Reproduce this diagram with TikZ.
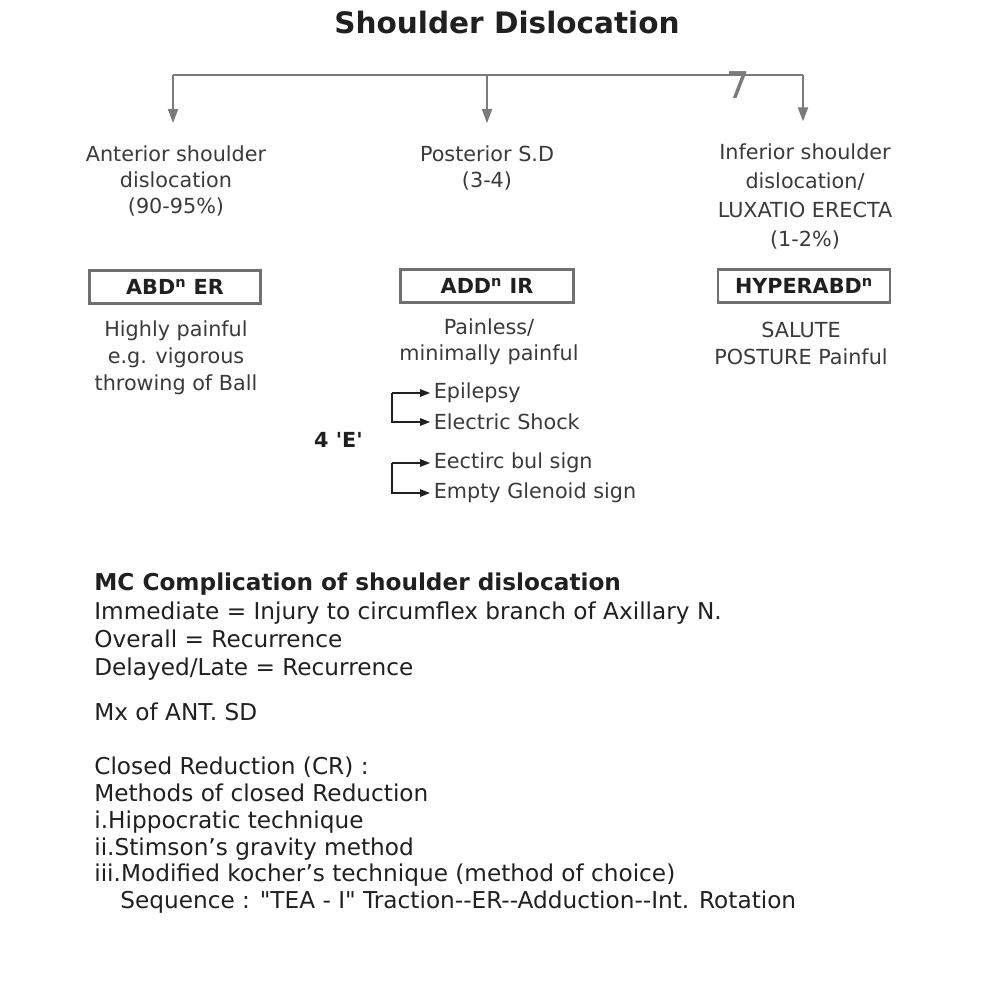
\documentclass[tikz,border=0pt]{standalone}
\usepackage{fontspec}
\setmainfont{DejaVu Sans}
\usetikzlibrary{arrows.meta}
\definecolor{ink}{HTML}{3A3A3A}
\definecolor{darkink}{HTML}{202020}
\definecolor{treegray}{HTML}{7A7A7A}
\definecolor{boxgray}{HTML}{707070}

\begin{document}
\begin{tikzpicture}[
  every node/.style={text=ink, inner sep=2pt},
  head/.style={align=center, font=\fontsize{11.8}{15}\selectfont},
  posbox/.style={draw=boxgray, line width=1.2pt, minimum height=0.66cm, text=darkink, font=\fontsize{11.8}{14}\selectfont\bfseries},
  note/.style={align=left, anchor=north west, inner sep=0pt, text=darkink, font=\fontsize{13.2}{16}\selectfont},
  tree/.style={draw=treegray, line width=1.1pt},
  treearrow/.style={tree, -{Triangle[length=0.28cm,width=0.2cm]}, shorten >=0.37cm},
  earrow/.style={draw=darkink, line width=0.8pt, -{Triangle[length=0.2cm,width=0.15cm]}},
  eitem/.style={anchor=west, font=\fontsize{11.8}{14}\selectfont},
]
\useasboundingbox (0,0) rectangle (20,-20);

% title
\node[text=darkink, font=\fontsize{16.8}{20}\selectfont\bfseries] (title) at (10.14,-0.44) {Shoulder Dislocation};

% the three types
\node[head] (ant) at (3.52,-3.62) {Anterior shoulder\\dislocation\\(90-95\%)};
\node[head] (post) at (9.74,-3.36) {Posterior S.D\\(3-4)};
\node[head, font=\fontsize{11.8}{16.5}\selectfont] (inf) at (16.1,-3.93) {Inferior shoulder\\dislocation/\\LUXATIO ERECTA\\(1-2\%)};

% tree
\coordinate (barL) at (3.46,-1.5);
\coordinate (barM) at (9.74,-1.5);
\coordinate (barR) at (16.06,-1.5);
\draw[tree] (barL) -- (barR);
\foreach \c/\n in {barL/ant, barM/post, barR/inf}
  \draw[treearrow] (\c) -- (\c |- \n.north);
\node[text=treegray, font=\fontsize{21}{21}\selectfont] (seven) at (14.76,-1.7) {7};

% position boxes
\node[posbox, minimum width=3.42cm] (antbox) at (3.5,-5.74) {ABD\textsuperscript{n} ER};
\node[posbox, minimum width=3.46cm] (postbox) at (9.74,-5.72) {ADD\textsuperscript{n} IR};
\node[posbox, minimum width=3.44cm] (infbox) at (16.08,-5.72) {HYPERABD\textsuperscript{n}};

% pain
\node[head, font=\fontsize{11.8}{15.5}\selectfont] (antpain) at (3.52,-7.16) {Highly painful\\e.g. vigorous\\throwing of Ball};
\node[head] (postpain) at (9.78,-6.83) {Painless/\\minimally painful};
\node[head] (infpain) at (16.02,-6.87) {SALUTE\\POSTURE Painful};

% 4 E
\node[text=darkink, font=\fontsize{11.8}{14}\selectfont\bfseries] (fourE) at (6.77,-8.8) {4 \textquotesingle E\textquotesingle};
\node[eitem] (epi) at (8.6,-7.86) {Epilepsy};
\node[eitem] (shock) at (8.6,-8.44) {Electric Shock};
\node[eitem] (bulb) at (8.6,-9.26) {Eectirc bul sign};
\node[eitem] (empty) at (8.6,-9.86) {Empty Glenoid sign};
\coordinate (brA) at (7.84,0);
\draw[earrow] (brA |- epi) -- (epi.west);
\draw[earrow] (brA |- epi) |- (shock.west);
\draw[earrow] (brA |- bulb) -- (bulb.west);
\draw[earrow] (brA |- bulb) |- (empty.west);

% notes
\node[note] (mc) at (1.88,-11.46) {\textbf{MC Complication of shoulder dislocation}\\
Immediate = Injury to circumflex branch of Axillary N.\\
Overall = Recurrence\\
Delayed/Late = Recurrence};
\node[note, anchor=west] (mx) at (1.88,-14.24) {Mx of ANT. SD};
\node[note, font=\fontsize{13.2}{15.2}\selectfont] (cr) at (1.88,-15.14) {Closed Reduction (CR) :\\
Methods of closed Reduction\\
i.Hippocratic technique\\
ii.Stimson's gravity method\\
iii.Modified kocher's technique (method of choice)\\
\hspace*{0.52cm}Sequence : \textquotedbl TEA - I\textquotedbl{} Traction-{}-ER-{}-Adduction-{}-Int. Rotation};
\end{tikzpicture}
\end{document}
